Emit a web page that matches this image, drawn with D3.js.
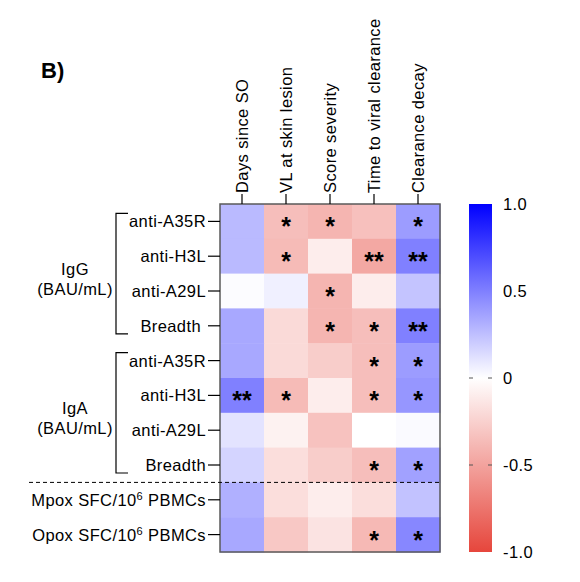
<!DOCTYPE html>
<html>
<head>
<meta charset="utf-8">
<script src="https://cdn.jsdelivr.net/npm/d3@7"></script>
<style>
  body { margin: 0; background: #fff; }
  text { font-family: "Liberation Sans", Arial, sans-serif; fill: #000; }
  .lbl { font-size: 16.5px; letter-spacing: 0.4px; }
</style>
</head>
<body>
<script>
// column and row names of the correlation matrix
var columns = ["Days since SO", "VL at skin lesion", "Score severity", "Time to viral clearance", "Clearance decay"];
var rows = ["anti-A35R", "anti-H3L", "anti-A29L", "Breadth\u00a0",
            "anti-A35R", "anti-H3L", "anti-A29L", "Breadth",
            "Mpox SFC/10^6 PBMCs", "Opox SFC/10^6 PBMCs"];

// spearman r values, one array per row
var r_values = [
  [ 0.27, -0.35, -0.40, -0.34,  0.39],
  [ 0.27, -0.37, -0.10, -0.47,  0.50],
  [ 0.01,  0.06, -0.40, -0.10,  0.23],
  [ 0.34, -0.20, -0.40, -0.35,  0.50],
  [ 0.34, -0.20, -0.27, -0.35,  0.39],
  [ 0.50, -0.37, -0.10, -0.35,  0.41],
  [ 0.11, -0.07, -0.33,  0.00,  0.02],
  [ 0.17, -0.18, -0.27, -0.35,  0.37],
  [ 0.31, -0.18, -0.10, -0.18,  0.24],
  [ 0.34, -0.30, -0.15, -0.38,  0.47]
];

// significance stars
var stars = [
  ["", "*", "*", "", "*"],
  ["", "*", "", "**", "**"],
  ["", "", "*", "", ""],
  ["", "", "*", "*", "**"],
  ["", "", "", "*", "*"],
  ["**", "*", "", "*", "*"],
  ["", "", "", "", ""],
  ["", "", "", "*", "*"],
  ["", "", "", "", ""],
  ["", "", "", "*", "*"]
];

// bracketed groups of rows
var group_names = ["IgG", "IgA"];
var group_units = ["(BAU/mL)", "(BAU/mL)"];
var group_rows = [[0, 3], [4, 7]];

var legend_ticks = [1.0, 0.5, 0, -0.5, -1.0];

var svg_width = 580;
var svg_height = 582;

var svg = d3.select("body")
    .append("svg")
    .attr("width", svg_width)
    .attr("height", svg_height);

// heatmap box
var left = 220, right = 440, top_y = 204, bottom = 552;

var x_scale = d3.scaleBand()
    .domain(d3.range(columns.length))
    .range([left, right]);

var y_scale = d3.scaleBand()
    .domain(d3.range(rows.length))
    .range([top_y, bottom]);

var color = d3.scaleLinear()
    .domain([-1, 0, 1])
    .range(["#e6463c", "#ffffff", "#0000ff"]);

// flatten for drawing
var cells = [];
r_values.forEach(function(row, i) {
  row.forEach(function(v, j) {
    cells.push({row: i, col: j, value: v, star: stars[i][j]});
  });
});

svg.selectAll("rect.cell")
    .data(cells)
    .enter()
    .append("rect")
    .attr("class", "cell")
    .attr("x", function(d) { return x_scale(d.col); })
    .attr("y", function(d) { return y_scale(d.row); })
    .attr("width", x_scale.bandwidth() + 0.5)
    .attr("height", y_scale.bandwidth() + 0.5)
    .attr("fill", function(d) { return color(d.value); });

svg.selectAll("text.star")
    .data(cells.filter(function(d) { return d.star != ""; }))
    .enter()
    .append("text")
    .attr("class", "star")
    .attr("x", function(d) { return x_scale(d.col) + x_scale.bandwidth() / 2; })
    .attr("y", function(d) { return y_scale(d.row) + y_scale.bandwidth() / 2 + 14; })
    .attr("text-anchor", "middle")
    .style("font-size", "25px")
    .style("font-weight", "bold")
    .text(function(d) { return d.star; });

// border
svg.append("rect")
    .attr("x", left)
    .attr("y", top_y)
    .attr("width", right - left)
    .attr("height", bottom - top_y)
    .attr("fill", "none")
    .attr("stroke", "#5a5a5a")
    .attr("stroke-width", 1.5);

// top axis with rotated labels
var top_axis = svg.append("g");
columns.forEach(function(name, j) {
  var cx = x_scale(j) + x_scale.bandwidth() / 2;
  top_axis.append("line")
      .attr("x1", cx).attr("x2", cx)
      .attr("y1", top_y - 10).attr("y2", top_y)
      .attr("stroke", "#000").attr("stroke-width", 1.2);
  top_axis.append("text")
      .attr("class", "lbl")
      .attr("transform", "translate(" + (cx + 6) + "," + (top_y - 11) + ") rotate(-90)")
      .attr("text-anchor", "start")
      .text(name);
});

// left axis
var left_axis = svg.append("g");
rows.forEach(function(name, i) {
  var cy = y_scale(i) + y_scale.bandwidth() / 2;
  left_axis.append("line")
      .attr("x1", left - 12).attr("x2", left)
      .attr("y1", cy).attr("y2", cy)
      .attr("stroke", "#000").attr("stroke-width", 1.2);
  var t = left_axis.append("text")
      .attr("class", "lbl")
      .attr("x", left - 14)
      .attr("y", cy + 6)
      .attr("text-anchor", "end");
  if (name.indexOf("^") >= 0) {
    var parts = name.split("^");
    t.append("tspan").text(parts[0]);
    t.append("tspan").attr("dy", -6).style("font-size", "11px").text(parts[1].charAt(0));
    t.append("tspan").attr("dy", 6).text(parts[1].slice(1));
  } else {
    t.text(name);
  }
});

// brackets and group labels
group_names.forEach(function(name, g) {
  var y0 = y_scale(group_rows[g][0]) + y_scale.bandwidth() / 2 - 8;
  var y1 = y_scale(group_rows[g][1]) + y_scale.bandwidth() / 2 + 8;
  svg.append("path")
      .attr("d", "M128," + y0 + "H116V" + y1 + "H128")
      .attr("fill", "none")
      .attr("stroke", "#000")
      .attr("stroke-width", 1.2);
  var mid = (y0 + y1) / 2;
  svg.append("text")
      .attr("class", "lbl")
      .attr("x", 75).attr("y", mid + 1)
      .attr("text-anchor", "middle")
      .text(name);
  svg.append("text")
      .attr("class", "lbl")
      .attr("x", 75).attr("y", mid + 21)
      .attr("text-anchor", "middle")
      .text(group_units[g]);
});

// dashed separator before the T cell rows
svg.append("line")
    .attr("x1", 29).attr("x2", right)
    .attr("y1", y_scale(8)).attr("y2", y_scale(8))
    .attr("stroke", "#000")
    .attr("stroke-width", 1)
    .attr("stroke-dasharray", "4,3");

// panel label
svg.append("text")
    .attr("x", 41).attr("y", 78)
    .style("font-size", "22px")
    .style("font-weight", "bold")
    .text("B)");

// colour bar
var bar_x = 469, bar_w = 23;
var bar_scale = d3.scaleLinear().domain([1, -1]).range([top_y, bottom]);

var defs = svg.append("defs");
var grad = defs.append("linearGradient")
    .attr("id", "bar_grad")
    .attr("x1", 0).attr("x2", 0).attr("y1", 0).attr("y2", 1);
grad.selectAll("stop")
    .data([1, 0, -1])
    .enter()
    .append("stop")
    .attr("offset", function(d) { return (1 - d) / 2; })
    .attr("stop-color", function(d) { return color(d); });

svg.append("rect")
    .attr("x", bar_x).attr("y", top_y)
    .attr("width", bar_w).attr("height", bottom - top_y)
    .attr("fill", "url(#bar_grad)");

// small tick marks only show on the white/red half
legend_ticks.filter(function(d) { return d <= 0 && d > -1; }).forEach(function(d) {
  [bar_x, bar_x + bar_w - 4].forEach(function(x) {
    svg.append("line")
        .attr("x1", x).attr("x2", x + 4)
        .attr("y1", bar_scale(d)).attr("y2", bar_scale(d))
        .attr("stroke", "#555").attr("stroke-width", 1);
  });
});

svg.selectAll("text.legend")
    .data(legend_ticks)
    .enter()
    .append("text")
    .attr("class", "legend lbl")
    .attr("x", 503)
    .attr("y", function(d) { return bar_scale(d) + 6; })
    .text(function(d) { return d == 0 ? "0" : d.toFixed(1); });
</script>
</body>
</html>
